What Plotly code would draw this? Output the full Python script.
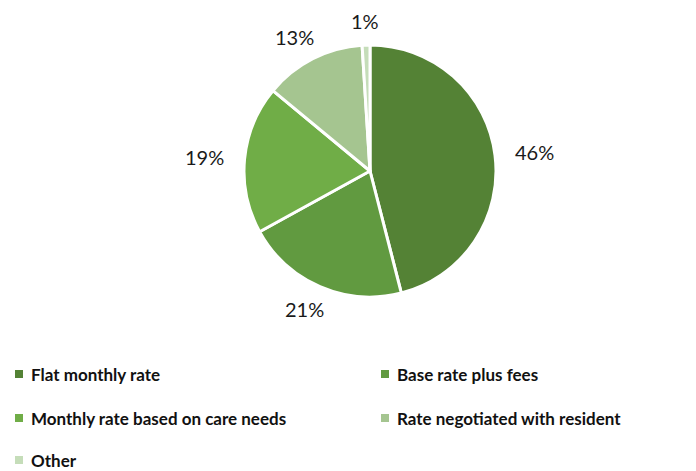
import math
import plotly.graph_objects as go

# Pricing structure shares
categories = [
    "Flat monthly rate",
    "Base rate plus fees",
    "Monthly rate based on care needs",
    "Rate negotiated with resident",
    "Other",
]
shares = [46, 21, 19, 13, 1]
colors = ["#548235", "#619A40", "#70AD47", "#A5C590", "#C5DDB9"]

W, H = 696, 471
cx, cy, r = 370, 171, 126  # pie centre and radius in px

fig = go.Figure(
    go.Pie(
        labels=categories,
        values=shares,
        sort=False,
        direction="clockwise",
        rotation=0,
        marker=dict(colors=colors, line=dict(color="white", width=3)),
        textinfo="none",
        hoverinfo="label+percent",
        showlegend=False,
        domain=dict(x=[(cx - r) / W, (cx + r) / W], y=[1 - (cy + r) / H, 1 - (cy - r) / H]),
    )
)

# Percentage labels placed outside each slice along its mid-angle
annotations = []
total = sum(shares)
cum = 0
for v in shares:
    theta = 2 * math.pi * (cum + v / 2) / total
    cum += v
    ux, uy = math.sin(theta), -math.cos(theta)
    px = cx + (r + 16) * ux + 24 * ux
    py = cy + (r + 16) * uy + 8 * uy
    annotations.append(
        dict(
            x=px / W, y=1 - py / H, xref="paper", yref="paper",
            text=f"{v}%", showarrow=False, xanchor="center", yanchor="middle",
            font=dict(family="Lato", size=20, color="#1a1a1a"),
        )
    )

# Two-column legend
shapes = []
col_x = [15, 381]
row_y = [374, 418, 460]
sq = 8
for i, (name, col) in enumerate(zip(categories, colors)):
    x0 = col_x[i % 2]
    yc = row_y[i // 2]
    shapes.append(
        dict(
            type="rect", xref="paper", yref="paper",
            x0=x0 / W, x1=(x0 + sq) / W,
            y0=1 - (yc + sq / 2) / H, y1=1 - (yc - sq / 2) / H,
            fillcolor=col, line=dict(width=0),
        )
    )
    annotations.append(
        dict(
            x=(x0 + 15) / W, y=1 - yc / H, xref="paper", yref="paper",
            text=f"<b>{name}</b>", showarrow=False, xanchor="left", yanchor="middle",
            borderpad=0,
            font=dict(family="Lato", size=17, color="#111111"),
        )
    )

fig.update_layout(
    width=W, height=H,
    margin=dict(l=0, r=0, t=0, b=0),
    paper_bgcolor="white", plot_bgcolor="white",
    annotations=annotations, shapes=shapes,
)

fig.write_html("out.html")
